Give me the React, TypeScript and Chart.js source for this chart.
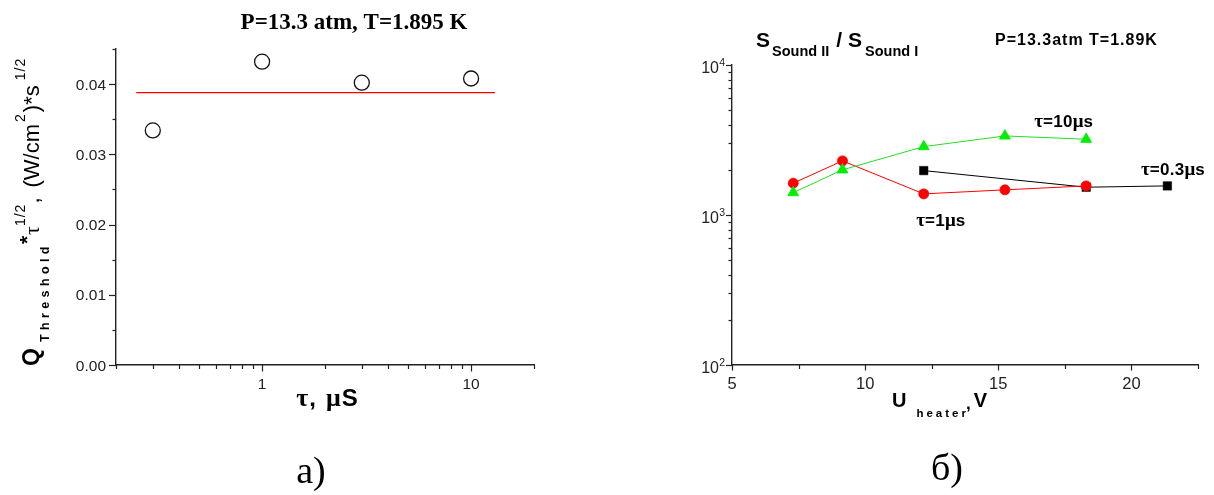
import React, { useEffect, useRef } from 'react';
import { Chart, registerables } from 'chart.js';

Chart.register(...registerables);

// ---------- data: left panel ----------
const TAU_US = [0.3, 1, 3, 10];
const Q_TAU = [0.0334, 0.0432, 0.0402, 0.0408];
const FIT_TAU = [0.25, 13];
const FIT_Q = [0.0388, 0.0388];
const LEFT_X_RANGE = [0.2, 20];
const LEFT_Y_RANGE = [0, 0.045];
const LEFT_Y_TICKS = [0, 0.01, 0.02, 0.03, 0.04];
const LEFT_Y_TICK_LABELS = ['0.00', '0.01', '0.02', '0.03', '0.04'];
const LEFT_Y_MINOR = [0.005, 0.015, 0.025, 0.035, 0.045];
const LEFT_X_TICKS = [1, 10];
const LEFT_X_TICK_LABELS = ['1', '10'];
const LEFT_X_MINOR = [0.2, 0.3, 0.4, 0.5, 0.6, 0.7, 0.8, 0.9, 2, 3, 4, 5, 6, 7, 8, 9, 20];

// ---------- data: right panel ----------
const U_TAU10 = [7.3, 9.15, 12.2, 15.25, 18.3];
const S_TAU10 = [1411, 2000, 2857, 3366, 3200];
const U_TAU1 = [7.3, 9.15, 12.2, 15.25, 18.3];
const S_TAU1 = [1630, 2295, 1383, 1471, 1563];
const U_TAU03 = [12.2, 18.3, 21.35];
const S_TAU03 = [1977, 1532, 1563];
const RIGHT_X_RANGE = [5, 22.5];
const RIGHT_Y_RANGE = [100, 10000];
const RIGHT_X_TICKS = [5, 10, 15, 20];
const RIGHT_X_TICK_LABELS = ['5', '10', '15', '20'];
const RIGHT_X_MINOR = [7.5, 12.5, 17.5, 22.5];
const RIGHT_Y_TICKS = [100, 1000, 10000];
const RIGHT_Y_TICK_EXP = ['2', '3', '4'];
const RIGHT_Y_MINOR = [200, 300, 400, 500, 600, 700, 800, 900, 2000, 3000, 4000, 5000, 6000, 7000, 8000, 9000];
const SERIES_LABELS = ['10', '0.3', '1'];
const SERIES_LABEL_U = [16.35, 20.36, 11.92];
const SERIES_LABEL_S = [3890, 1851, 840];

const SANS = '"Liberation Sans", Arial, sans-serif';
const SERIF = '"Liberation Serif", "Times New Roman", serif';

type Seg = { t: string; font: string; dy?: number; ls?: number; gap?: number };

function drawRich(ctx: CanvasRenderingContext2D, segs: Seg[], x: number, y: number, align: 'left' | 'center' = 'left') {
  ctx.save();
  ctx.textAlign = 'left';
  ctx.textBaseline = 'alphabetic';
  let total = 0;
  for (const s of segs) {
    ctx.font = s.font;
    (ctx as any).letterSpacing = (s.ls || 0) + 'px';
    total += (s.gap || 0) + ctx.measureText(s.t).width;
  }
  let cx = align === 'center' ? x - total / 2 : x;
  for (const s of segs) {
    ctx.font = s.font;
    (ctx as any).letterSpacing = (s.ls || 0) + 'px';
    cx += s.gap || 0;
    ctx.fillText(s.t, cx, y + (s.dy || 0));
    cx += ctx.measureText(s.t).width;
  }
  (ctx as any).letterSpacing = '0px';
  ctx.restore();
}

function hTicks(ctx: CanvasRenderingContext2D, scale: any, values: number[], y: number, len: number) {
  for (const v of values) {
    const px = Math.round(scale.getPixelForValue(v)) + 0.5;
    ctx.beginPath();
    ctx.moveTo(px, y);
    ctx.lineTo(px, y + len);
    ctx.stroke();
  }
}
function vTicks(ctx: CanvasRenderingContext2D, scale: any, values: number[], x: number, len: number) {
  for (const v of values) {
    const py = Math.round(scale.getPixelForValue(v)) + 0.5;
    ctx.beginPath();
    ctx.moveTo(x, py);
    ctx.lineTo(x - len, py);
    ctx.stroke();
  }
}

const leftPlugin = {
  id: 'leftDecor',
  afterDraw(chart: any) {
    const ctx: CanvasRenderingContext2D = chart.ctx;
    const { left, bottom } = chart.chartArea;
    const xs = chart.scales.x;
    const ys = chart.scales.y;
    ctx.save();
    ctx.strokeStyle = '#222';
    ctx.lineWidth = 1.2;
    vTicks(ctx, ys, LEFT_Y_TICKS, left, 7);
    vTicks(ctx, ys, LEFT_Y_MINOR, left, 3.5);
    hTicks(ctx, xs, LEFT_X_TICKS, bottom, 6.5);
    hTicks(ctx, xs, LEFT_X_MINOR, bottom, 4);
    ctx.fillStyle = '#222';
    ctx.font = `15.5px ${SANS}`;
    ctx.textAlign = 'right';
    ctx.textBaseline = 'alphabetic';
    LEFT_Y_TICKS.forEach((v, i) => ctx.fillText(LEFT_Y_TICK_LABELS[i], left - 10, ys.getPixelForValue(v) + 5.5));
    ctx.textAlign = 'center';
    LEFT_X_TICKS.forEach((v, i) => ctx.fillText(LEFT_X_TICK_LABELS[i], xs.getPixelForValue(v), bottom + 24));
    ctx.fillStyle = '#000';
    // title
    ctx.font = `bold 23px ${SERIF}`;
    ctx.fillText('P=13.3 atm, T=1.895 K', 354, 29);
    // x axis title
    drawRich(ctx, [
      { t: 'τ', font: `bold 26px ${SERIF}` },
      { t: ',', font: `bold 24px ${SANS}`, gap: 1 },
      { t: 'μ', font: `bold 26px ${SERIF}`, gap: 10 },
      { t: 'S', font: `bold 24px ${SANS}`, gap: 1 },
    ], (left + chart.chartArea.right) / 2 + 2, 406, 'center');
    // y axis title (rotated)
    ctx.save();
    ctx.translate(39, 366);
    ctx.rotate(-Math.PI / 2);
    drawRich(ctx, [
      { t: 'Q', font: `bold 23px ${SANS}` },
      { t: 'Threshold', font: `bold 12.5px ${SANS}`, dy: 10, ls: 4.4, gap: 6 },
      { t: '*', font: `bold 21px ${SANS}`, dy: -5, gap: -2 },
      { t: 'τ', font: `22px ${SERIF}`, gap: 1 },
      { t: '1/2', font: `14px ${SANS}`, dy: -14, ls: 1 },
      { t: ',', font: `22px ${SANS}` },
      { t: '(W/cm', font: `22px ${SANS}`, gap: 10 },
      { t: '2', font: `14px ${SANS}`, dy: -14, gap: 2 },
      { t: ')*s', font: `22px ${SANS}`, gap: 2 },
      { t: '1/2', font: `14px ${SANS}`, dy: -14, ls: 1, gap: 5 },
    ], 0, 0, 'left');
    ctx.restore();
    // caption
    ctx.font = `38px ${SERIF}`;
    ctx.textAlign = 'center';
    ctx.fillText('a)', 311, 483);
    ctx.restore();
  },
};

const rightPlugin = {
  id: 'rightDecor',
  afterDraw(chart: any) {
    const ctx: CanvasRenderingContext2D = chart.ctx;
    const { left, bottom } = chart.chartArea;
    const xs = chart.scales.x;
    const ys = chart.scales.y;
    ctx.save();
    ctx.strokeStyle = '#222';
    ctx.lineWidth = 1.2;
    vTicks(ctx, ys, RIGHT_Y_TICKS, left, 6);
    vTicks(ctx, ys, RIGHT_Y_MINOR, left, 3.5);
    hTicks(ctx, xs, RIGHT_X_TICKS, bottom, 5.5);
    hTicks(ctx, xs, RIGHT_X_MINOR, bottom, 4);
    ctx.fillStyle = '#222';
    ctx.textBaseline = 'alphabetic';
    RIGHT_Y_TICKS.forEach((v, i) => {
      const py = ys.getPixelForValue(v);
      ctx.textAlign = 'right';
      ctx.font = `10.5px ${SANS}`;
      ctx.fillText(RIGHT_Y_TICK_EXP[i], left - 7, py + 0.5);
      ctx.font = `16px ${SANS}`;
      ctx.fillText('10', left - 13, py + 7.5);
    });
    ctx.textAlign = 'center';
    ctx.font = `16.5px ${SANS}`;
    RIGHT_X_TICKS.forEach((v, i) => ctx.fillText(RIGHT_X_TICK_LABELS[i], xs.getPixelForValue(v), bottom + 24));
    ctx.fillStyle = '#000';
    // series labels
    SERIES_LABELS.forEach((lab, i) => {
      drawRich(ctx, [
        { t: 'τ', font: `bold 19px ${SERIF}` },
        { t: '=' + lab, font: `bold 17px ${SANS}`, ls: 0.3 },
        { t: 'μ', font: `bold 19px ${SERIF}` },
        { t: 's', font: `bold 17px ${SANS}` },
      ], xs.getPixelForValue(SERIES_LABEL_U[i]), ys.getPixelForValue(SERIES_LABEL_S[i]), 'left');
    });
    // top-left title
    drawRich(ctx, [
      { t: 'S', font: `bold 21px ${SANS}` },
      { t: 'Sound II', font: `bold 14.5px ${SANS}`, dy: 9.5, gap: 2 },
      { t: '/', font: `bold 21px ${SANS}`, gap: 7 },
      { t: 'S', font: `bold 21px ${SANS}`, gap: 6 },
      { t: 'Sound I', font: `bold 14.5px ${SANS}`, dy: 9.5, gap: 3 },
    ], 156, 46.7, 'left');
    drawRich(ctx, [{ t: 'P=13.3atm T=1.89K', font: `bold 16px ${SANS}`, ls: 1 }], 395, 45, 'left');
    // x axis title
    drawRich(ctx, [
      { t: 'U', font: `bold 20px ${SANS}` },
      { t: 'heater', font: `bold 11.5px ${SANS}`, dy: 10, ls: 3, gap: 10 },
      { t: ',', font: `bold 17px ${SANS}`, dy: 2, gap: -3 },
      { t: 'V', font: `bold 20px ${SANS}`, gap: 3 },
    ], 292, 407, 'left');
    // caption
    ctx.font = `38px ${SERIF}`;
    ctx.textAlign = 'center';
    ctx.fillText('б)', 347, 480);
    ctx.restore();
  },
};

function toPts(xs: number[], ys: number[]) {
  return xs.map((x, i) => ({ x, y: ys[i] }));
}

const axisBase = {
  grid: { display: false, drawTicks: false, tickLength: 0 },
  ticks: { display: false, padding: 0 },
  border: { display: true, color: '#222', width: 1.4 },
  title: { display: false },
};

export default function App() {
  const leftRef = useRef<HTMLCanvasElement>(null);
  const rightRef = useRef<HTMLCanvasElement>(null);

  useEffect(() => {
    const left = new Chart(leftRef.current!, {
      type: 'scatter',
      data: {
        datasets: [
          {
            data: toPts(TAU_US, Q_TAU),
            pointStyle: 'circle',
            pointRadius: 7.5,
            borderWidth: 1.3,
            borderColor: '#111',
            backgroundColor: 'rgba(255,255,255,0)',
            showLine: false,
          },
          {
            data: toPts(FIT_TAU, FIT_Q),
            showLine: true,
            borderColor: '#ff0000',
            borderWidth: 1.3,
            pointRadius: 0,
          },
        ],
      },
      options: {
        animation: false,
        responsive: false,
        devicePixelRatio: 1,
        events: [],
        layout: { padding: { left: 116, right: 66, top: 49, bottom: 130 } },
        plugins: { legend: { display: false }, tooltip: { enabled: false } },
        scales: {
          x: { ...axisBase, type: 'logarithmic', min: LEFT_X_RANGE[0], max: LEFT_X_RANGE[1] },
          y: { ...axisBase, type: 'linear', min: LEFT_Y_RANGE[0], max: LEFT_Y_RANGE[1] },
        },
      },
      plugins: [leftPlugin],
    } as any);

    const right = new Chart(rightRef.current!, {
      type: 'scatter',
      data: {
        datasets: [
          {
            data: toPts(U_TAU10, S_TAU10),
            showLine: true,
            borderColor: '#22e022',
            borderWidth: 1,
            pointStyle: 'triangle',
            pointRadius: 6.3,
            pointBorderWidth: 0.8,
            pointBorderColor: '#00ee00',
            pointBackgroundColor: '#00ee00',
          },
          {
            data: toPts(U_TAU1, S_TAU1),
            showLine: true,
            borderColor: '#ff0000',
            borderWidth: 1,
            pointStyle: 'circle',
            pointRadius: 5,
            pointBorderWidth: 0.8,
            pointBorderColor: '#ff0000',
            pointBackgroundColor: '#ff0000',
          },
          {
            data: toPts(U_TAU03, S_TAU03),
            showLine: true,
            borderColor: '#000',
            borderWidth: 1,
            pointStyle: 'rect',
            pointRadius: 6,
            pointBorderWidth: 0.5,
            pointBorderColor: '#000',
            pointBackgroundColor: '#000',
          },
        ],
      },
      options: {
        animation: false,
        responsive: false,
        devicePixelRatio: 1,
        events: [],
        layout: { padding: { left: 132, right: 16, top: 65, bottom: 130 } },
        plugins: { legend: { display: false }, tooltip: { enabled: false } },
        scales: {
          x: { ...axisBase, type: 'linear', min: RIGHT_X_RANGE[0], max: RIGHT_X_RANGE[1] },
          y: { ...axisBase, type: 'logarithmic', min: RIGHT_Y_RANGE[0], max: RIGHT_Y_RANGE[1] },
        },
      },
      plugins: [rightPlugin],
    } as any);

    return () => {
      left.destroy();
      right.destroy();
    };
  }, []);

  return (
    <div style={{ position: 'absolute', left: 0, top: 0, width: 1214, height: 495, background: '#fff' }}>
      <canvas ref={leftRef} width={600} height={495} style={{ position: 'absolute', left: 0, top: 0, width: 600, height: 495 }} />
      <canvas ref={rightRef} width={614} height={495} style={{ position: 'absolute', left: 600, top: 0, width: 614, height: 495 }} />
    </div>
  );
}
